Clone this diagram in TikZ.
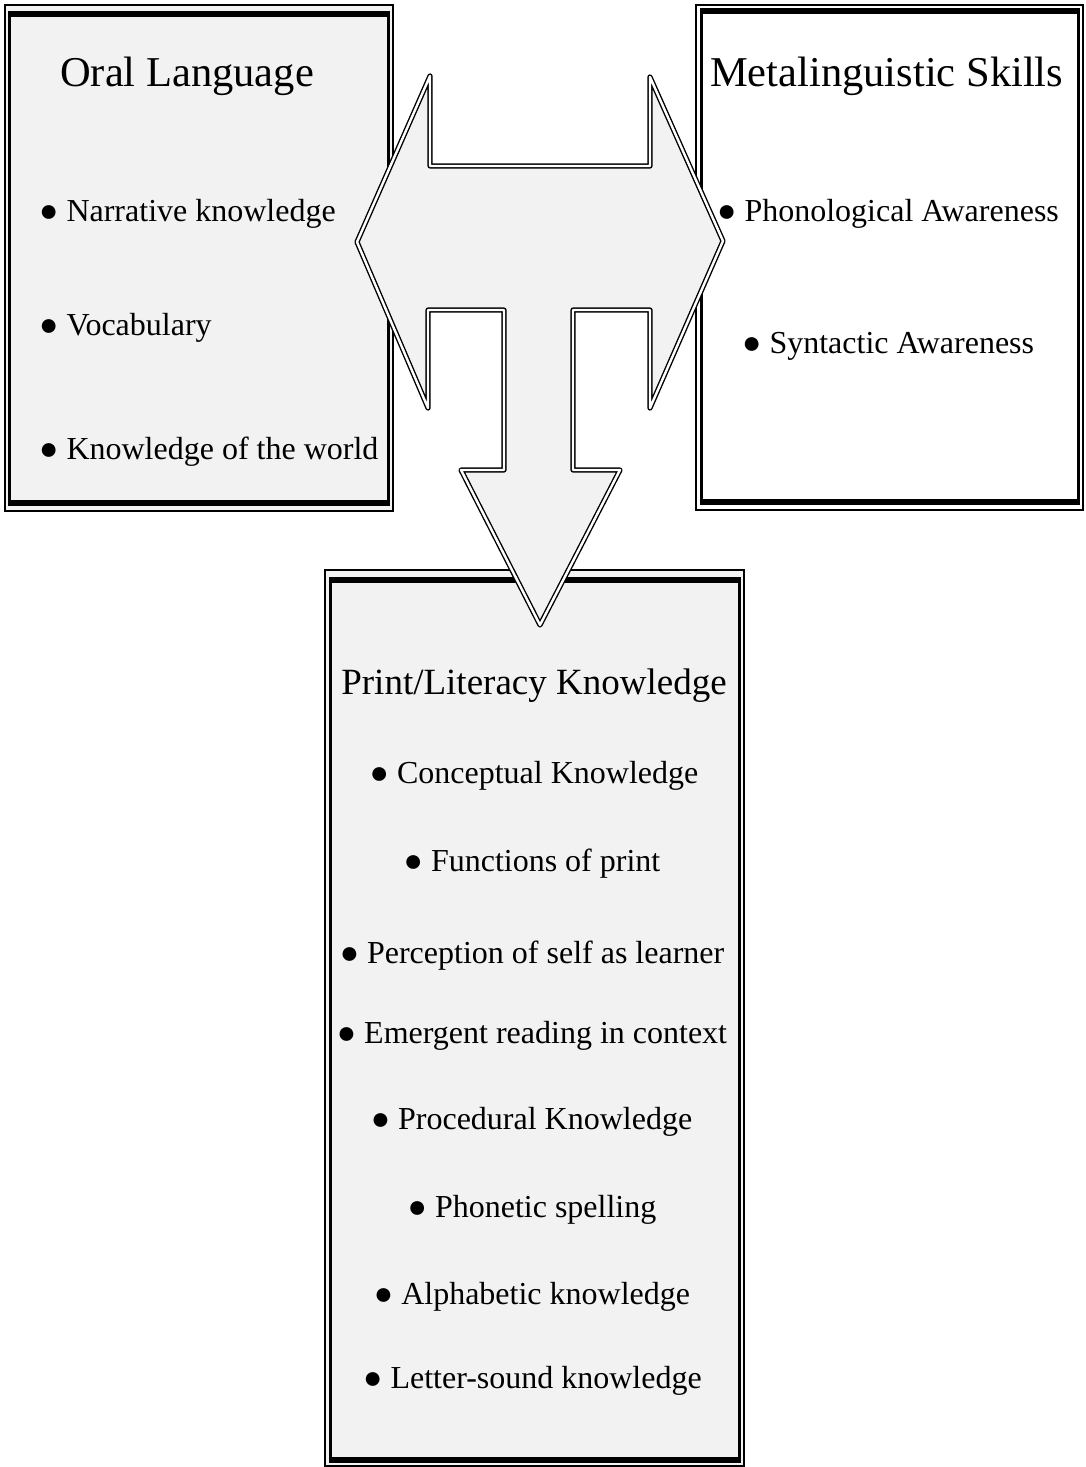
\documentclass[tikz,border=0pt]{standalone}
\usepackage{fontspec}
\setmainfont{Liberation Serif}
\definecolor{boxgray}{HTML}{F2F2F2}
\newcommand\bul{●\ }
\tikzset{
  thinframe/.style={draw=black, line width=1.5pt},
  thickside/.style={draw=black, line width=3pt},
  thickedge/.style={draw=black, line width=6pt},
  ttl/.style={font=\fontsize{42.5}{48}\selectfont, anchor=base west, inner sep=0pt},
  itm/.style={font=\fontsize{32}{38}\selectfont, anchor=base west, inner sep=0pt},
  pttl/.style={font=\fontsize{37}{44}\selectfont, anchor=base, inner sep=0pt},
  pitm/.style={font=\fontsize{32}{38}\selectfont, anchor=base, inner sep=0pt},
  bigarrow/.style={fill=boxgray, draw=black, line width=1.4pt, double=white, double distance=2.4pt, line join=round}
}
\begin{document}
\begin{tikzpicture}[x=1pt,y=-1pt]
\useasboundingbox (0,0) rectangle (1085,1467);
\fill[white] (0,0) rectangle (1085,1467);

% Oral Language box
\fill[boxgray] (5,5) rectangle (393,511);
\draw[thinframe] (5,5) rectangle (393,511);
\draw[thickside] (9.5,13.5) rectangle (388.5,502.5);
\draw[thickedge] (8,13.5) -- (390,13.5);
\draw[thickedge] (8,502.5) -- (390,502.5);

% Metalinguistic box
\fill[white] (696,5) rectangle (1083,510);
\draw[thinframe] (696,5) rectangle (1083,510);
\draw[thickside] (701,11) rectangle (1078,502);
\draw[thickedge] (699.5,11) -- (1079.5,11);
\draw[thickedge] (699.5,502) -- (1079.5,502);

% Print box
\fill[boxgray] (325,570) rectangle (744,1466);
\draw[thinframe] (325,570) rectangle (744,1466);
\draw[thickside] (330.5,580) rectangle (739,1460);
\draw[thickedge] (329,580) -- (740.5,580);
\draw[thickedge] (329,1460) -- (740.5,1460);

% three-way block arrow
\draw[bigarrow] (357,242) -- (430,76) -- (430,166) -- (650,166) -- (650,77)
  -- (723,241) -- (650,408) -- (650,310) -- (573,310) -- (573,470)
  -- (620,470) -- (540,625) -- (461,470) -- (504,470) -- (504,310)
  -- (428,310) -- (428,408) -- cycle;

% texts
\node[ttl] (oral) at (60,86) {Oral Language};
\node[itm] (narr) at (39,221) {\bul Narrative knowledge};
\node[itm] (voc) at (39,335) {\bul Vocabulary};
\node[itm] (world) at (39,459) {\bul Knowledge of the world};

\node[ttl] (meta) at (710,86) {Metalinguistic Skills};
\node[itm] (phon) at (717,221) {\bul Phonological Awareness};
\node[itm] (synt) at (742,353) {\bul Syntactic Awareness};

\node[pttl] (print) at (534,694) {Print/Literacy Knowledge};
\node[pitm] (p1) at (534,783) {\bul Conceptual Knowledge};
\node[pitm] (p2) at (532,871) {\bul Functions of print};
\node[pitm] (p3) at (532,963) {\bul Perception of self as learner};
\node[pitm] (p4) at (532,1043) {\bul Emergent reading in context};
\node[pitm] (p5) at (531.5,1129) {\bul Procedural Knowledge};
\node[pitm] (p6) at (532,1217) {\bul Phonetic spelling};
\node[pitm] (p7) at (532,1304) {\bul Alphabetic knowledge};
\node[pitm] (p8) at (532.5,1388) {\bul Letter-sound knowledge};
\end{tikzpicture}
\end{document}
